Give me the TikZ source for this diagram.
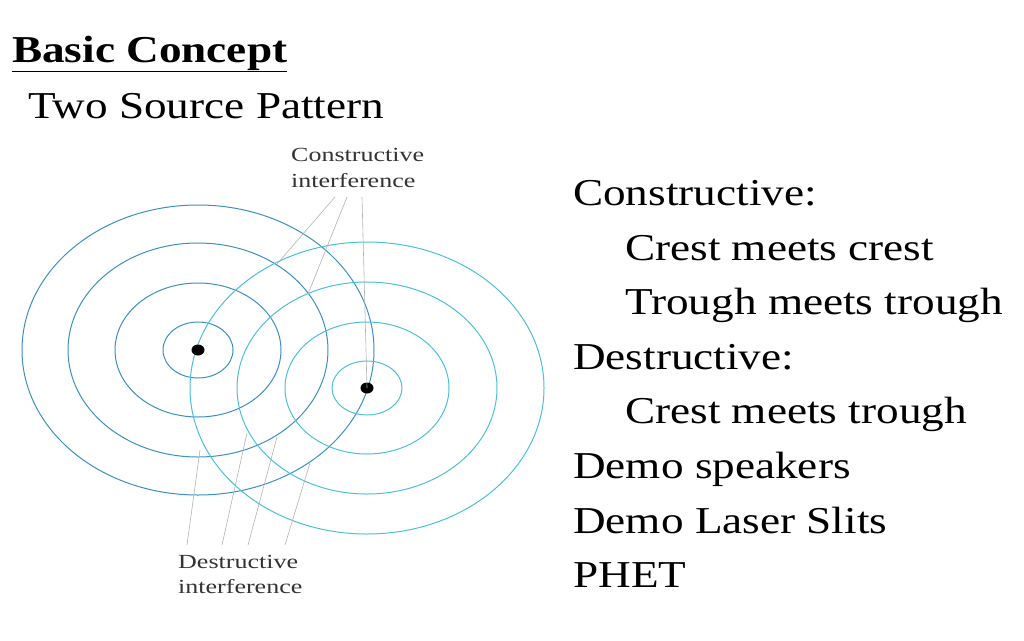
\documentclass[tikz,border=0pt]{standalone}
\usepackage{fontspec}
\setmainfont{Liberation Serif}
\definecolor{lcol}{HTML}{3C8FC0}
\definecolor{rcol}{HTML}{4CC0DA}
\newcommand{\wide}[1]{\scalebox{1.19}[1]{#1}}
\newcommand{\swide}[1]{\scalebox{1.3}[1]{#1}}
\begin{document}
\begin{tikzpicture}[x=1pt,y=-1pt,
  lw/.style={draw=lcol, line width=1pt},
  rw/.style={draw=rcol, line width=1pt},
  lead/.style={draw=gray!60, line width=0.6pt},
  big/.style={anchor=base west, inner sep=0, font=\fontsize{38}{40}\selectfont},
  small/.style={anchor=base west, inner sep=0, font=\fontsize{20}{22}\selectfont, text=black!80}]
\useasboundingbox (0,0) rectangle (1024,640);
\node[big, font=\bfseries\fontsize{38}{40}\selectfont] (t) at (12,62) {\underline{\wide{Basic Concept}}};
\node[big] (s) at (28,118) {\wide{Two Source Pattern}};
\coordinate (L) at (198,350);
\coordinate (R) at (367,388);
\foreach \a/\b in {35/28,83/67,130/107,176/145} \draw[lw] (L) ellipse ({\a} and {\b});
\foreach \a/\b in {35/27,82/66,130/106,177/146} \draw[rw] (R) ellipse ({\a} and {\b});
\fill (L) ellipse (6.5 and 5.5);
\fill (R) ellipse (6.5 and 5.5);
\node[small] (c1) at (291,161) {\swide{Constructive}};
\node[small] (c2) at (291,187) {\swide{interference}};
\node[small] (d1) at (178,568) {\swide{Destructive}};
\node[small] (d2) at (178,593) {\swide{interference}};
\coordinate (ca) at (335,197); \coordinate (cb) at (347,197); \coordinate (cc) at (362,197);
\coordinate (ea) at (277,264); \coordinate (eb) at (308,294);
\draw[lead] (ca) -- (ea); \draw[lead] (cb) -- (eb); \draw[lead] (cc) -- (R);
\coordinate (da) at (187,545); \coordinate (db) at (222,545); \coordinate (dc) at (248,545); \coordinate (dd) at (285,545);
\coordinate (fa) at (200,450); \coordinate (fb) at (247,433); \coordinate (fc) at (277,437); \coordinate (fd) at (310,463);
\draw[lead] (da) -- (fa); \draw[lead] (db) -- (fb); \draw[lead] (dc) -- (fc); \draw[lead] (dd) -- (fd);
\node[big] (r1) at (573,205) {\wide{Constructive:}};
\node[big] (r2) at (625,260) {\wide{Crest meets crest}};
\node[big] (r3) at (625,314) {\wide{Trough meets trough}};
\node[big] (r4) at (573,369) {\wide{Destructive:}};
\node[big] (r5) at (625,423) {\wide{Crest meets trough}};
\node[big] (r6) at (573,478) {\wide{Demo speakers}};
\node[big] (r7) at (573,533) {\wide{Demo Laser Slits}};
\node[big] (r8) at (573,587) {\wide{PHET}};
\end{tikzpicture}
\end{document}
